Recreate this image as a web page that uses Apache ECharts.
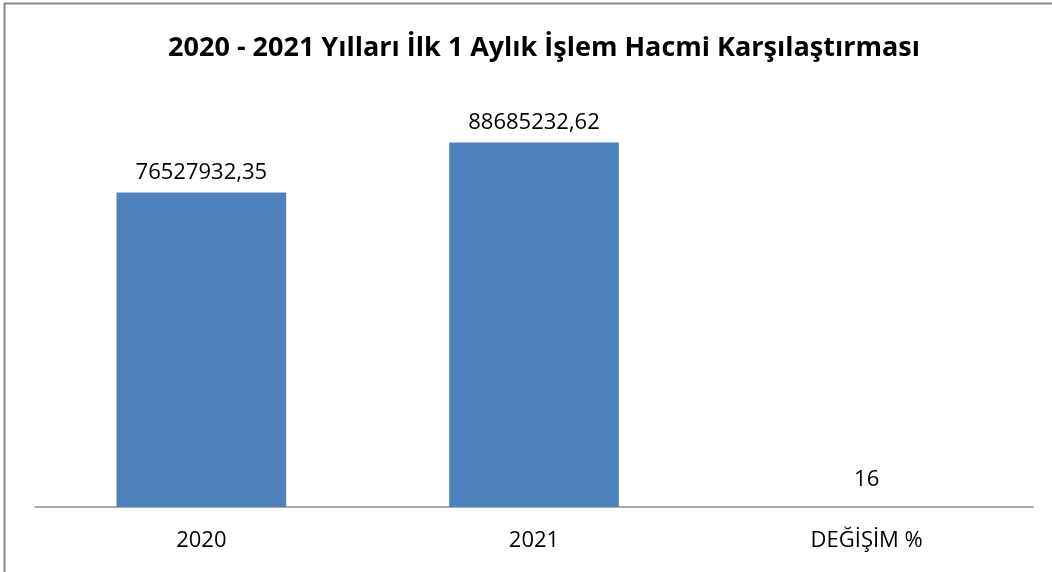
<!DOCTYPE html>
<html>
<head>
<meta charset="utf-8">
<script src="https://cdn.jsdelivr.net/npm/echarts@6/dist/echarts.min.js"></script>
<style>
  html, body { margin: 0; padding: 0; background: #fff; }
  #chart { width: 1052px; height: 572px; }
</style>
</head>
<body>
<div id="chart"></div>
<script>
var categories = ['2020', '2021', 'DEĞİŞİM %'];
var values = [76527932.35, 88685232.62, 16];
var labelTexts = ['76527932,35', '88685232,62', '16'];

var myChart = echarts.init(document.getElementById('chart'));

// the "16" label sits a bit higher than the others in the original
var seriesData = values.map(function (v, i) {
    var item = { value: v };
    if (i === 2) item.label = { distance: 16 };
    return item;
});

var option = {
    animation: false,
    backgroundColor: '#ffffff',
    title: {
        text: '2020 - 2021 Yılları İlk 1 Aylık İşlem Hacmi Karşılaştırması',
        left: 539,
        textAlign: 'center',
        top: 30,
        textStyle: {
            fontFamily: 'Open Sans',
            fontWeight: 'bold',
            fontSize: 27,
            color: '#000'
        }
    },
    graphic: [
        {
            type: 'rect',
            shape: { x: 4.5, y: 3.5, width: 1100, height: 620 },
            style: { fill: 'none', stroke: '#8a8a8a', lineWidth: 2 },
            silent: true
        }
    ],
    grid: {
        left: 35,
        right: 19,
        top: 96,
        bottom: 65,
        containLabel: false
    },
    xAxis: {
        type: 'category',
        data: categories,
        axisLine: { lineStyle: { color: '#8c8c8c', width: 1.5 } },
        axisTick: { show: false },
        axisLabel: {
            fontFamily: 'Open Sans',
            fontSize: 22,
            color: '#000',
            margin: 23
        }
    },
    yAxis: {
        type: 'value',
        min: 0,
        max: 100000000,
        show: false,
        splitLine: { show: false }
    },
    series: [
        {
            type: 'bar',
            data: seriesData,
            barWidth: '51%',
            itemStyle: { color: '#4f81bd' },
            label: {
                show: true,
                position: 'top',
                distance: 9,
                fontFamily: 'Open Sans',
                fontSize: 22,
                color: '#000',
                formatter: function (p) { return labelTexts[p.dataIndex]; }
            }
        }
    ]
};

myChart.setOption(option);
</script>
</body>
</html>
